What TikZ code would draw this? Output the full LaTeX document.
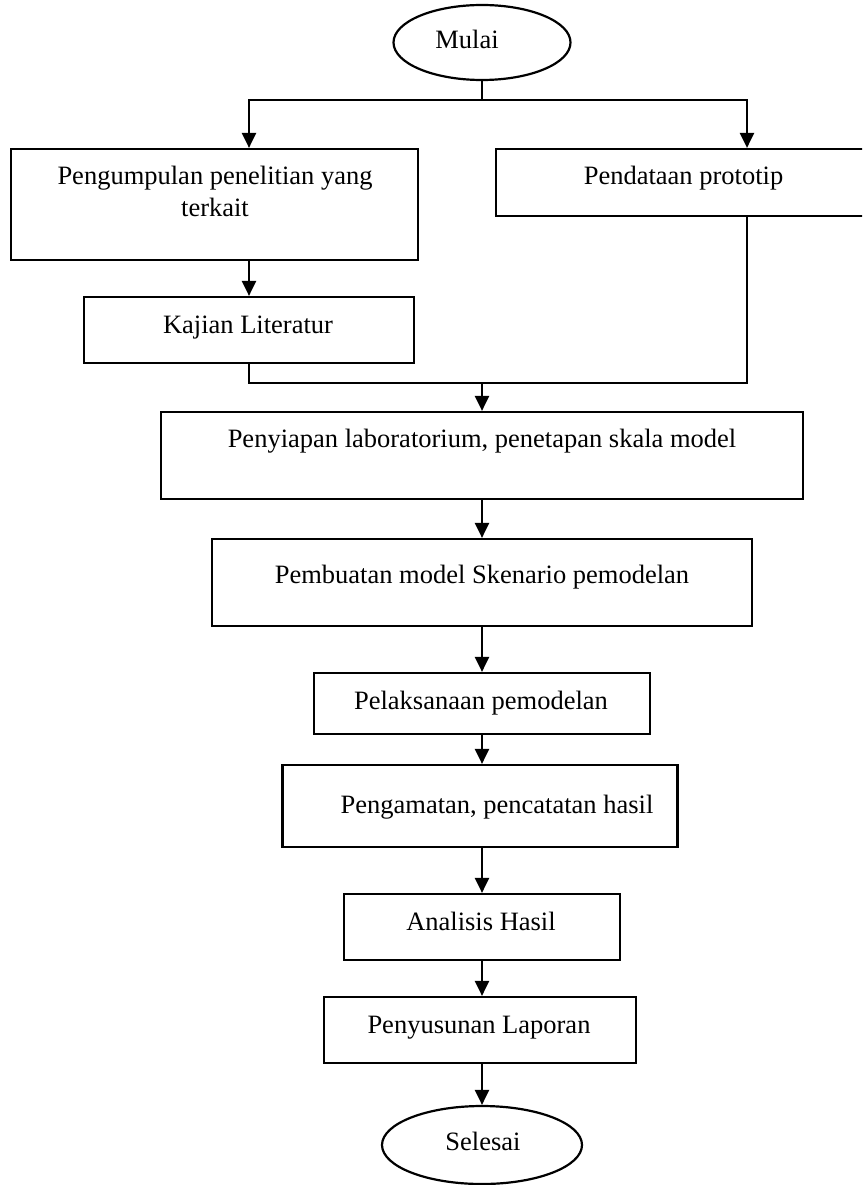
\documentclass[tikz,border=0pt]{standalone}
\usepackage{fontspec}
\setmainfont{Liberation Serif}
\usetikzlibrary{arrows.meta,shapes.geometric}
\begin{document}
\begin{tikzpicture}[x=1pt,y=-1pt,
  box/.style={draw, line width=2.2pt, rectangle, inner sep=0pt},
  term/.style={draw, line width=2.2pt, ellipse, inner sep=0pt},
  lbl/.style={anchor=base, inner sep=0pt, font=\fontsize{26.5}{31}\selectfont},
  conn/.style={line width=2.3pt},
  arr/.style={conn, -{Triangle[width=14pt,length=15pt]}}]
\clip (0,0) rectangle (862,1185);
\fill[white] (0,0) rectangle (862,1185);
% terminals
\node[term, minimum width=177pt, minimum height=75pt] (mulai) at (482,42.5) {};
\node[lbl] (tmulai) at (467,49) {Mulai};
\node[term, minimum width=200pt, minimum height=78pt] (selesai) at (482,1145) {};
\node[lbl] (tselesai) at (483,1150) {Selesai};
% boxes
\node[box, minimum width=407pt, minimum height=111pt] (box1) at (214.5,204.5) {};
\node[lbl] (tbox1a) at (215,185) {Pengumpulan penelitian yang};
\node[lbl] (tbox1b) at (215,216) {terkait};
\node[box, minimum width=502pt, minimum height=67pt] (box2) at (747,182.5) {};
\node[lbl] (tbox2) at (683.5,185) {Pendataan prototip};
\node[box, minimum width=330pt, minimum height=66pt] (kajian) at (249,330) {};
\node[lbl] (tkajian) at (248,333) {Kajian Literatur};
\node[box, minimum width=642pt, minimum height=87pt] (penyiapan) at (482,455.5) {};
\node[lbl] (tpenyiapan) at (482,447) {Penyiapan laboratorium, penetapan skala model};
\node[box, minimum width=540pt, minimum height=87pt] (pembuatan) at (482,582.5) {};
\node[lbl] (tpembuatan) at (482,583) {Pembuatan model Skenario pemodelan};
\node[box, minimum width=336pt, minimum height=61pt] (pelaksanaan) at (482,703.5) {};
\node[lbl] (tpelaksanaan) at (481,709) {Pelaksanaan pemodelan};
\node[box, minimum width=395pt, minimum height=82pt] (pengamatan) at (480,806) {};
\node[lbl] (tpengamatan) at (497,813) {Pengamatan, pencatatan hasil};
\node[box, minimum width=276pt, minimum height=66pt] (analisis) at (482,927) {};
\node[lbl] (tanalisis) at (481,930) {Analisis Hasil};
\node[box, minimum width=312pt, minimum height=66pt] (penyusunan) at (480,1030) {};
\node[lbl] (tpenyusunan) at (479,1033) {Penyusunan Laporan};
% connectors
\coordinate (split) at (482,100);
\coordinate (merge) at (482,383);
\coordinate (ax) at (482,0);
\draw[conn] (mulai.south) -- (split);
\draw[arr] (split) -| (kajian.north |- box1.north);
\draw[arr] (split) -| (box2.north);
\draw[arr] (box1.south -| kajian.north) -- (kajian.north);
\draw[conn] (kajian.south) |- (merge);
\draw[conn] (box2.south) |- (merge);
\draw[arr] (merge) -- (penyiapan.north);
\draw[arr] (penyiapan.south) -- (pembuatan.north);
\draw[arr] (pembuatan.south) -- (pelaksanaan.north);
\draw[arr] (pelaksanaan.south) -- (pengamatan.north -| ax);
\draw[arr] (pengamatan.south -| ax) -- (analisis.north);
\draw[arr] (analisis.south) -- (penyusunan.north -| ax);
\draw[arr] (penyusunan.south -| ax) -- (selesai.north);
\end{tikzpicture}
\end{document}
